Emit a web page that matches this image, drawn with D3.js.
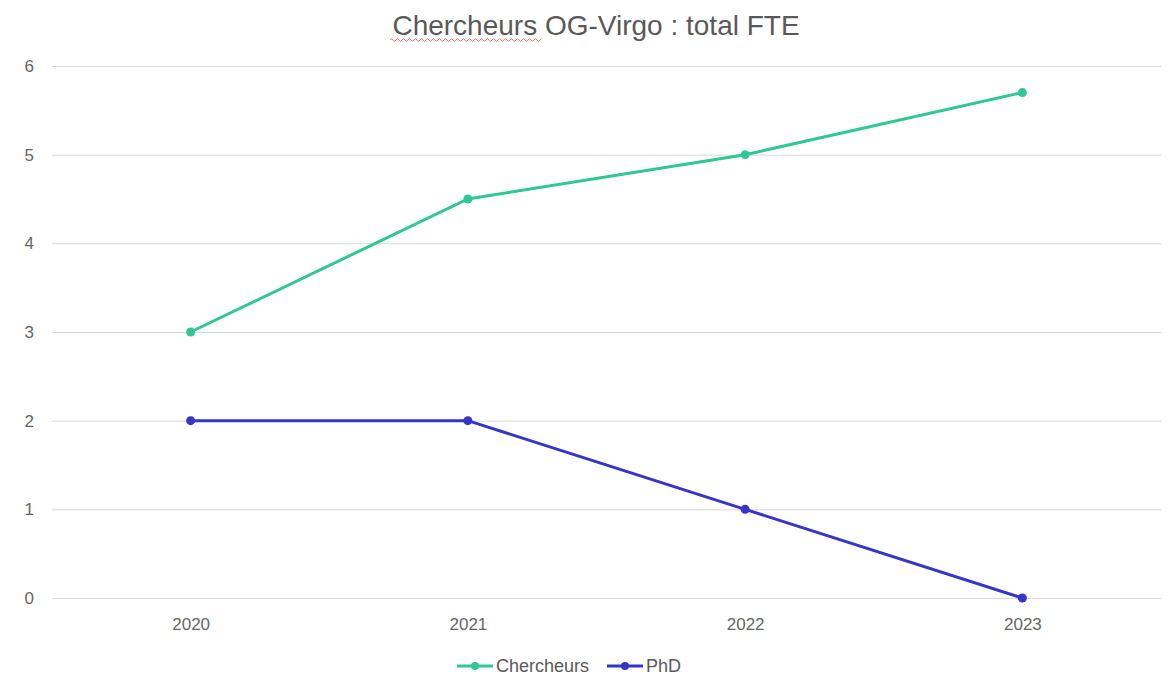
<!DOCTYPE html>
<html>
<head>
<meta charset="utf-8">
<script src="https://cdn.jsdelivr.net/npm/d3@7"></script>
<style>
  body { margin: 0; background: #fff; }
  text { font-family: "Liberation Sans", Arial, sans-serif; }
</style>
</head>
<body>
<div id="chart"></div>
<script>
const years = ["2020", "2021", "2022", "2023"];
const chercheurs = [3, 4.5, 5, 5.7];
const phd = [2, 2, 1, 0];
const yTicks = [0, 1, 2, 3, 4, 5, 6];
const seriesNames = ["Chercheurs", "PhD"];
const seriesColors = ["#2fc795", "#3535c8"];

const width = 1169, height = 677;
const margin = {left: 52, right: 8, top: 66, bottom: 79};

let svg = d3.select("#chart")
  .append("svg")
  .attr("width", width)
  .attr("height", height);

let x = d3.scalePoint()
  .domain(years)
  .range([margin.left, width - margin.right])
  .padding(0.5);

let y = d3.scaleLinear()
  .domain([0, 6])
  .range([height - margin.bottom, margin.top]);

// grid lines
svg.append("g")
  .attr("transform", `translate(${margin.left}, 0)`)
  .call(d3.axisLeft(y).tickValues(yTicks).tickSize(-(width - margin.left - margin.right)).tickFormat(""))
  .call(g => g.select(".domain").remove())
  .call(g => g.selectAll("line").attr("stroke", "#d9d9d9").attr("stroke-width", 1));

// y labels
svg.append("g")
  .attr("transform", `translate(34, 0)`)
  .call(d3.axisLeft(y).tickValues(yTicks).tickFormat(d3.format("d")).tickSize(0).tickPadding(0))
  .call(g => g.select(".domain").remove())
  .call(g => g.selectAll("text")
    .attr("fill", "#666").style("font-size", "17px").attr("text-anchor", "end"));

// x labels
svg.append("g")
  .attr("transform", `translate(0, ${height - margin.bottom})`)
  .call(d3.axisBottom(x).tickSize(0).tickPadding(20))
  .call(g => g.select(".domain").remove())
  .call(g => g.selectAll("text").attr("fill", "#666").style("font-size", "17px"));

let series = [chercheurs, phd];
let line = d3.line()
  .x(function(d, i) { return x(years[i]); })
  .y(function(d) { return y(d); });

series.forEach(function(vals, s) {
  svg.append("path")
    .datum(vals)
    .attr("fill", "none")
    .attr("stroke", seriesColors[s])
    .attr("stroke-width", 3)
    .attr("d", line);
  svg.selectAll(null)
    .data(vals)
    .enter().append("circle")
    .attr("cx", function(d, i) { return x(years[i]); })
    .attr("cy", function(d) { return y(d); })
    .attr("r", 4.5)
    .attr("fill", seriesColors[s]);
});

// title
svg.append("text")
  .attr("x", 596)
  .attr("y", 35)
  .attr("text-anchor", "middle")
  .attr("fill", "#595959")
  .style("font-size", "28px")
  .text("Chercheurs OG-Virgo : total FTE");

// spell-check squiggle under first word
let wavy = "M390,40";
for (let px = 390; px < 541; px += 3) {
  wavy += ` L${px + 1.5},${(px / 3) % 2 < 1 ? 38.8 : 41.2}`;
}
svg.append("path")
  .attr("d", wavy)
  .attr("fill", "none")
  .attr("stroke", "#e05050")
  .attr("stroke-width", 0.8);

// legend
let legend = svg.append("g").attr("transform", "translate(0, 666)");
let legendX = [457, 607];
seriesNames.forEach(function(name, s) {
  let g = legend.append("g").attr("transform", `translate(${legendX[s]}, 0)`);
  g.append("line").attr("x1", 0).attr("x2", 36)
    .attr("stroke", seriesColors[s]).attr("stroke-width", 3);
  g.append("circle").attr("cx", 18).attr("r", 4).attr("fill", seriesColors[s]);
  g.append("text").attr("x", 39).attr("y", 6)
    .attr("fill", "#595959").style("font-size", "18px").text(name);
});
</script>
</body>
</html>
